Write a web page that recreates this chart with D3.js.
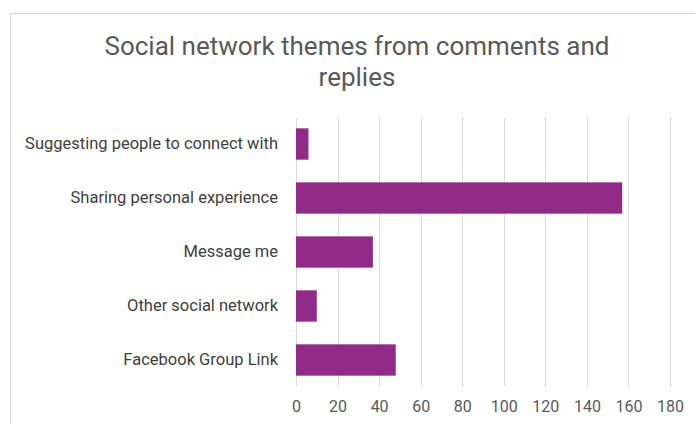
<!DOCTYPE html>
<html>
<head>
<meta charset="utf-8">
<script src="https://cdn.jsdelivr.net/npm/d3@7"></script>
<style>
  html, body { margin: 0; padding: 0; background: #fff; }
  svg { display: block; }
</style>
</head>
<body>
<svg id="chart" width="695" height="424"></svg>
<script>
// Theme categories, top to bottom
const categories = [
  "Suggesting people to connect with",
  "Sharing personal experience",
  "Message me",
  "Other social network",
  "Facebook Group Link"
];
// Count of comments/replies per theme
const counts = [6, 157, 37, 10, 48];
// Axis tick values
const tickValues = [0, 20, 40, 60, 80, 100, 120, 140, 160, 180];
const titleLines = ["Social network themes from comments and", "replies"];

const W = 695, H = 424;
const svg = d3.select("#chart");
const font = "Roboto, 'Open Sans', sans-serif";

// Chart frame
svg.append("rect")
  .attr("x", 10.5).attr("y", 13.5)
  .attr("width", W + 20).attr("height", H + 20)
  .attr("fill", "#fff")
  .attr("stroke", "#d9d9d9").attr("stroke-width", 1);

const margin = { left: 296, right: 25, top: 117, bottom: 37 };
const x = d3.scaleLinear().domain([0, 180]).range([margin.left, 670]);
const y = d3.scaleBand().domain(categories)
  .range([margin.top, H - margin.bottom])
  .paddingInner(0.42).paddingOuter(0.21);

// Title
svg.append("text")
  .attr("x", 357).attr("y", 55)
  .attr("text-anchor", "middle")
  .attr("font-family", font)
  .attr("font-size", 26)
  .attr("fill", "#595959")
  .selectAll("tspan").data(titleLines).join("tspan")
  .attr("x", 357)
  .attr("dy", (d, i) => i === 0 ? 0 : 31)
  .text(d => d);

// Vertical gridlines
svg.append("g")
  .selectAll("line").data(tickValues).join("line")
  .attr("x1", d => Math.round(x(d)) + 0.5)
  .attr("x2", d => Math.round(x(d)) + 0.5)
  .attr("y1", margin.top).attr("y2", H - margin.bottom)
  .attr("stroke", "#d9d9d9").attr("stroke-width", 1);

// Bars
svg.append("g")
  .selectAll("rect").data(categories).join("rect")
  .attr("x", x(0))
  .attr("y", d => y(d))
  .attr("width", (d, i) => x(counts[i]) - x(0))
  .attr("height", y.bandwidth())
  .attr("fill", "#922b87");

// X axis labels
const xAxis = d3.axisBottom(x).tickValues(tickValues).tickSize(0).tickPadding(14);
const gx = svg.append("g")
  .attr("transform", `translate(0,${H - margin.bottom})`)
  .call(xAxis);
gx.select(".domain").remove();
gx.selectAll("text")
  .attr("font-family", font).attr("font-size", 16).attr("fill", "#595959");

// Category labels
const yAxis = d3.axisLeft(y).tickSize(0).tickPadding(18);
const gy = svg.append("g")
  .attr("transform", `translate(${x(0)},0)`)
  .call(yAxis);
gy.select(".domain").remove();
gy.selectAll("text")
  .attr("font-family", font).attr("font-size", 16.5).attr("fill", "#404040");
</script>
</body>
</html>
